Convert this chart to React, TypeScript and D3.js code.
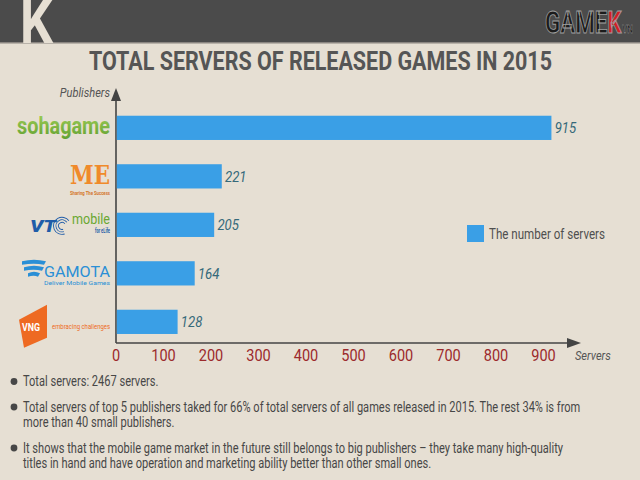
import React, { useRef, useEffect } from 'react';
import * as d3 from 'd3';

const publishers = ['sohagame', 'ME', 'VTC Mobile', 'GAMOTA', 'VNG'];
const servers = [915, 221, 205, 164, 128];
const xTicks = [0, 100, 200, 300, 400, 500, 600, 700, 800, 900];
const notes = [
  ['Total servers: 2467 servers.'],
  [
    'Total servers of top 5 publishers taked for 66% of total servers of all games released in 2015. The rest 34% is from',
    'more than 40 small publishers.',
  ],
  [
    'It shows that the mobile game market in the future still belongs to big publishers \u2013 they take many high-quality',
    'titles in hand and have operation and marketing ability better than other small ones.',
  ],
];

const W = 640;
const H = 480;
const FONT = 'Roboto, "Noto Sans", sans-serif';

// squeeze text horizontally to mimic the condensed face of the original
function squeeze(sel: d3.Selection<SVGTextElement, any, any, any>, k: number) {
  sel.each(function () {
    const len = this.getComputedTextLength();
    d3.select(this).attr('textLength', len * k).attr('lengthAdjust', 'spacingAndGlyphs');
  });
}

const App: React.FC = () => {
  const svgRef = useRef<SVGSVGElement | null>(null);

  useEffect(() => {
    const svg = d3.select(svgRef.current);
    svg.selectAll('*').remove();

    const x = d3.scaleLinear().domain([0, 1000]).range([116, 591]);
    const y = d3.scaleBand<string>().domain(publishers).range([103.6, 346.1]).paddingInner(0.5).paddingOuter(0.25);
    const x0 = x(0);
    const axisY = 343;

    // background + header
    svg.append('rect').attr('width', W).attr('height', H).attr('fill', '#e6dfd3');
    svg.append('rect').attr('width', W).attr('height', 42).attr('fill', '#4b4b4b');
    svg.append('rect').attr('y', 42).attr('width', W).attr('height', 1.5).attr('fill', '#8a8580');
    svg.append('text')
      .attr('x', 20).attr('y', 43)
      .attr('font-family', FONT).attr('font-weight', 700).attr('font-size', 62)
      .attr('fill', '#e6dfd3')
      .attr('textLength', 33).attr('lengthAdjust', 'spacingAndGlyphs')
      .text('K');

    // GAMEK.vn logo, one text squeezed by a transform
    const logo = svg.append('g').attr('transform', 'translate(545,33) scale(0.72,1)')
      .append('text')
      .attr('font-family', FONT).attr('font-weight', 700).attr('font-size', 31)
      .attr('stroke', '#a0a0a0').attr('stroke-width', 0.9);
    logo.append('tspan').attr('fill', '#1b1b1b').text('GAME');
    logo.append('tspan').attr('fill', '#d21f26').text('K');
    logo.append('tspan').attr('fill', '#1b1b1b').attr('font-size', 11).attr('stroke-width', 0.4).attr('dx', 1).text('VN');

    // title
    svg.append('text')
      .attr('x', 89).attr('y', 70)
      .attr('font-family', FONT).attr('font-weight', 700).attr('font-size', 25)
      .attr('fill', '#555555')
      .attr('textLength', 463).attr('lengthAdjust', 'spacingAndGlyphs')
      .text('TOTAL SERVERS OF RELEASED GAMES IN 2015');

    // axes
    const axisCol = '#444444';
    svg.append('line').attr('x1', x0).attr('x2', 570).attr('y1', axisY).attr('y2', axisY)
      .attr('stroke', axisCol).attr('stroke-width', 1.6);
    svg.append('path').attr('d', `M581,${axisY} L567,${axisY - 5} L567,${axisY + 5} Z`).attr('fill', axisCol);
    svg.append('line').attr('x1', x0).attr('x2', x0).attr('y1', axisY).attr('y2', 96)
      .attr('stroke', axisCol).attr('stroke-width', 1.6);
    svg.append('path').attr('d', `M${x0},88 L${x0 - 5},101 L${x0 + 5},101 Z`).attr('fill', axisCol);

    svg.append('g').selectAll('text').data(xTicks).enter().append('text')
      .attr('x', d => x(d)).attr('y', 361)
      .attr('text-anchor', 'middle')
      .attr('font-family', FONT).attr('font-size', 16.5).attr('fill', '#9c2a2c')
      .text(d => d)
      .call(squeeze, 0.88);

    svg.append('text').attr('x', 575).attr('y', 360)
      .attr('font-family', FONT).attr('font-style', 'italic').attr('font-size', 13)
      .attr('fill', '#555').text('Servers').call(squeeze, 0.85);
    svg.append('text').attr('x', 110).attr('y', 97).attr('text-anchor', 'end')
      .attr('font-family', FONT).attr('font-style', 'italic').attr('font-size', 13)
      .attr('fill', '#555').text('Publishers').call(squeeze, 0.85);

    // bars
    const rows = publishers.map((p, i) => ({ p, v: servers[i] }));
    svg.append('g').selectAll('rect').data(rows).enter().append('rect')
      .attr('x', x0 + 0.8)
      .attr('y', d => y(d.p)!)
      .attr('width', d => x(d.v) - x0)
      .attr('height', y.bandwidth())
      .attr('fill', '#3a9fe6');

    svg.append('g').selectAll('text').data(rows).enter().append('text')
      .attr('x', d => x(d.v) + 4)
      .attr('y', d => y(d.p)! + y.bandwidth() / 2 + 5.5)
      .attr('font-family', FONT).attr('font-style', 'italic').attr('font-size', 15)
      .attr('fill', '#35697a')
      .text(d => d.v)
      .call(squeeze, 0.88);

    // legend
    svg.append('rect').attr('x', 467).attr('y', 225).attr('width', 17).attr('height', 17).attr('fill', '#3a9fe6');
    svg.append('text').attr('x', 489).attr('y', 239)
      .attr('font-family', FONT).attr('font-size', 14.5).attr('fill', '#4f4f4f')
      .attr('textLength', 116).attr('lengthAdjust', 'spacingAndGlyphs')
      .text('The number of servers');

    // publisher logos (category labels)
    const cy = (p: string) => y(p)! + y.bandwidth() / 2;
    const g = svg.append('g').attr('font-family', FONT);

    // sohagame
    const grad = svg.append('defs').append('linearGradient').attr('id', 'soha').attr('x1', 0).attr('x2', 0).attr('y1', 0).attr('y2', 1);
    grad.append('stop').attr('offset', '0%').attr('stop-color', '#a4d05a');
    grad.append('stop').attr('offset', '100%').attr('stop-color', '#5f9f2f');
    g.append('text').attr('x', 17).attr('y', cy('sohagame') + 6)
      .attr('font-weight', 700).attr('font-size', 24).attr('fill', 'url(#soha)')
      .attr('textLength', 93).attr('lengthAdjust', 'spacingAndGlyphs')
      .text('sohagame');

    // ME
    const me = cy('ME');
    g.append('text').attr('x', 70).attr('y', me + 7.5)
      .attr('font-family', '"DejaVu Serif", serif').attr('font-weight', 700).attr('font-size', 26)
      .attr('fill', '#f08a2a').attr('textLength', 40).attr('lengthAdjust', 'spacingAndGlyphs').text('ME');
    g.append('text').attr('x', 70).attr('y', me + 18.5)
      .attr('font-weight', 700).attr('font-size', 5).attr('fill', '#d4742a')
      .attr('textLength', 40).attr('lengthAdjust', 'spacingAndGlyphs').text('Sharing The Success');

    // VTC mobile
    const vt = cy('VTC Mobile');
    g.append('text').attr('x', 30).attr('y', vt + 7)
      .attr('font-weight', 900).attr('font-style', 'italic').attr('font-size', 17)
      .attr('fill', '#1f5ca8').attr('textLength', 26).attr('lengthAdjust', 'spacingAndGlyphs').text('VT');
    [4, 6.5, 9].forEach(r => {
      g.append('path')
        .attr('d', d3.arc()({ innerRadius: r - 0.9, outerRadius: r, startAngle: Math.PI * 0.9, endAngle: Math.PI * 2.3 }) as string)
        .attr('transform', `translate(62,${vt + 1})`).attr('fill', '#1f5ca8');
    });
    g.append('text').attr('x', 72).attr('y', vt - 1)
      .attr('font-size', 15).attr('fill', '#6aa832')
      .attr('textLength', 38).attr('lengthAdjust', 'spacingAndGlyphs').text('mobile');
    g.append('text').attr('x', 95).attr('y', vt + 8)
      .attr('font-weight', 700).attr('font-size', 6.5).attr('fill', '#1f5ca8')
      .attr('textLength', 15).attr('lengthAdjust', 'spacingAndGlyphs').text('for eLife');

    // GAMOTA
    const ga = cy('GAMOTA');
    [[0, 24], [6, 20], [12, 12]].forEach(([dy, w]) => {
      g.append('path')
        .attr('d', `M${22 + (24 - w) / 2},${ga - 12 + dy} q${w / 2},-3 ${w},0 l-2,3.5 q-${w / 2 - 2},-2 -${w - 2},0 Z`)
        .attr('fill', '#2a8fd6');
    });
    g.append('text').attr('x', 44).attr('y', ga + 3.5)
      .attr('font-size', 15).attr('fill', '#2a8fd6')
      .attr('textLength', 66).attr('lengthAdjust', 'spacingAndGlyphs').text('GAMOTA');
    g.append('text').attr('x', 44).attr('y', ga + 12)
      .attr('font-size', 5.5).attr('fill', '#2a8fd6')
      .attr('textLength', 66).attr('lengthAdjust', 'spacingAndGlyphs').text('Deliver Mobile Games');

    // VNG
    const vn = cy('VNG');
    g.append('path')
      .attr('d', `M19,${vn - 2} L47,${vn - 17} L47,${vn + 16} L24,${vn + 26} Z`)
      .attr('fill', '#ee6a22');
    g.append('text').attr('x', 22).attr('y', vn + 9)
      .attr('font-weight', 700).attr('font-size', 11).attr('fill', '#ffffff')
      .attr('textLength', 18).attr('lengthAdjust', 'spacingAndGlyphs').text('VNG');
    g.append('text').attr('x', 52).attr('y', vn + 7)
      .attr('font-size', 7.5).attr('fill', '#ee6a22')
      .attr('textLength', 58).attr('lengthAdjust', 'spacingAndGlyphs').text('embracing challenges');

    // bullet notes
    const noteTop = [381.5, 407, 448];
    const lineGap = 15.5;
    notes.forEach((lines, i) => {
      svg.append('circle').attr('cx', 14).attr('cy', noteTop[i]).attr('r', 3.4).attr('fill', '#474747');
      const ng = svg.append('g')
        .attr('transform', `translate(23,0) scale(0.79,1)`)
        .attr('font-family', FONT).attr('font-size', 14).attr('fill', '#474747');
      lines.forEach((line, j) => {
        ng.append('text').attr('x', 0).attr('y', noteTop[i] + j * lineGap + 5).text(line);
      });
    });
  }, []);

  return (
    <svg
      ref={svgRef}
      width={W}
      height={H}
      style={{ position: 'absolute', left: 0, top: 0 }}
    />
  );
};

export default App;
